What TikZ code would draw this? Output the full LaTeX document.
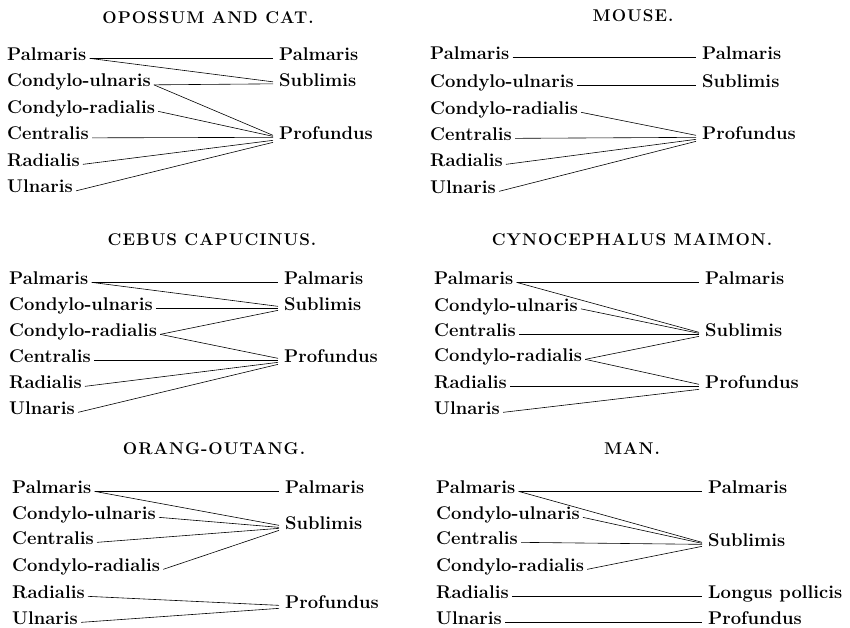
\documentclass[tikz,border=0pt]{standalone}
\usepackage{fontspec}
\setmainfont{Latin Modern Roman}
\newfontfamily\ttlface{Latin Modern Roman}[LetterSpace=6]
\newcommand\labfont{\fontsize{18.4}{20}\selectfont\bfseries}
\newcommand\ttlfont{\fontsize{17}{19}\selectfont\ttlface\bfseries}
\tikzset{
  lab/.style={anchor=base west, inner sep=0pt, font=\labfont},
  ttl/.style={anchor=center, inner sep=0pt, font=\ttlfont},
  con/.style={line width=0.6pt, black}
}
\newcommand\conn[3]{\draw[con] ([xshift=3pt]#1.mid east) -- ([xshift=-6pt,yshift=#3pt]#2.mid west);}
\begin{document}
\begin{tikzpicture}[x=1pt,y=-1pt]
\useasboundingbox (0,0) rectangle (850,628);
% ---------- Panel 1: Opossum and Cat
\node[ttl] (t1) at (208,18) {OPOSSUM AND CAT.};
\node[lab] (a1) at (7,60.5) {Palmaris};
\node[lab] (b1) at (7,87) {Condylo-ulnaris};
\node[lab] (c1) at (7,113.5) {Condylo-radialis};
\node[lab] (d1) at (7,140) {Centralis};
\node[lab] (e1) at (7,166.5) {Radialis};
\node[lab] (f1) at (7,193) {Ulnaris};
\node[lab] (P1) at (279,60.5) {Palmaris};
\node[lab] (S1) at (279,87) {Sublimis};
\node[lab] (F1) at (279,139.5) {Profundus};
\conn{a1}{P1}{0}
\conn{a1}{S1}{3}
\conn{b1}{S1}{1}
\conn{b1}{F1}{2}
\conn{c1}{F1}{1}
\conn{d1}{F1}{0}
\conn{e1}{F1}{-3}
\conn{f1}{F1}{-5}
% ---------- Panel 2: Mouse
\node[ttl] (t2) at (633,16) {MOUSE.};
\node[lab] (a2) at (430,59.5) {Palmaris};
\node[lab] (b2) at (430,87.5) {Condylo-ulnaris};
\node[lab] (c2) at (430,114.5) {Condylo-radialis};
\node[lab] (d2) at (430,140.5) {Centralis};
\node[lab] (e2) at (430,166.5) {Radialis};
\node[lab] (f2) at (430,193.5) {Ulnaris};
\node[lab] (P2) at (702,59.5) {Palmaris};
\node[lab] (S2) at (702,87.5) {Sublimis};
\node[lab] (F2) at (702,139.5) {Profundus};
\conn{a2}{P2}{0}
\conn{b2}{S2}{0}
\conn{c2}{F2}{2}
\conn{d2}{F2}{0}
\conn{e2}{F2}{-2}
\conn{f2}{F2}{-4}
% ---------- Panel 3: Cebus capucinus
\node[ttl] (t3) at (212,240) {CEBUS CAPUCINUS.};
\node[lab] (a3) at (9,284.5) {Palmaris};
\node[lab] (b3) at (9,310.5) {Condylo-ulnaris};
\node[lab] (c3) at (9,336.5) {Condylo-radialis};
\node[lab] (d3) at (9,362.5) {Centralis};
\node[lab] (e3) at (9,388.5) {Radialis};
\node[lab] (f3) at (9,414.5) {Ulnaris};
\node[lab] (P3) at (284,284.5) {Palmaris};
\node[lab] (S3) at (284,310.5) {Sublimis};
\node[lab] (F3) at (284,362.5) {Profundus};
\conn{a3}{P3}{0}
\conn{a3}{S3}{2}
\conn{b3}{S3}{0}
\conn{c3}{S3}{-2}
\conn{c3}{F3}{2}
\conn{d3}{F3}{0}
\conn{e3}{F3}{-2}
\conn{f3}{F3}{-4}
% ---------- Panel 4: Cynocephalus maimon
\node[ttl] (t4) at (632,240) {CYNOCEPHALUS MAIMON.};
\node[lab] (a4) at (434,284.5) {Palmaris};
\node[lab] (b4) at (434,311) {Condylo-ulnaris};
\node[lab] (c4) at (434,336.5) {Centralis};
\node[lab] (d4) at (434,361.5) {Condylo-radialis};
\node[lab] (e4) at (434,388.5) {Radialis};
\node[lab] (f4) at (434,414.5) {Ulnaris};
\node[lab] (P4) at (705,284.5) {Palmaris};
\node[lab] (S4) at (705,336.5) {Sublimis};
\node[lab] (F4) at (705,388.5) {Profundus};
\conn{a4}{P4}{0}
\conn{a4}{S4}{2}
\conn{b4}{S4}{1}
\conn{c4}{S4}{0}
\conn{d4}{S4}{-2}
\conn{d4}{F4}{2}
\conn{e4}{F4}{0}
\conn{f4}{F4}{-3}
% ---------- Panel 5: Orang-outang
\node[ttl] (t5) at (214,449) {ORANG-OUTANG.};
\node[lab] (a5) at (12,493.5) {Palmaris};
\node[lab] (b5) at (12,519.5) {Condylo-ulnaris};
\node[lab] (c5) at (12,544.5) {Centralis};
\node[lab] (d5) at (12,571.5) {Condylo-radialis};
\node[lab] (e5) at (12,598.5) {Radialis};
\node[lab] (f5) at (12,624.5) {Ulnaris};
\node[lab] (P5) at (285,493.5) {Palmaris};
\node[lab] (S5) at (285,529.5) {Sublimis};
\node[lab] (F5) at (285,608.5) {Profundus};
\conn{a5}{P5}{0}
\conn{a5}{S5}{2}
\conn{b5}{S5}{0}
\conn{c5}{S5}{-1}
\conn{d5}{S5}{-3}
\conn{e5}{F5}{1}
\conn{f5}{F5}{-2}
% ---------- Panel 6: Man
\node[ttl] (t6) at (632,449) {MAN.};
\node[lab] (a6) at (436,493.5) {Palmaris};
\node[lab] (b6) at (436,519.5) {Condylo-ulnaris};
\node[lab] (c6) at (436,544.5) {Centralis};
\node[lab] (d6) at (436,571.5) {Condylo-radialis};
\node[lab] (e6) at (436,598.5) {Radialis};
\node[lab] (f6) at (436,624.5) {Ulnaris};
\node[lab] (P6) at (708,493.5) {Palmaris};
\node[lab] (S6) at (708,546.5) {Sublimis};
\node[lab] (L6) at (708,598.5) {Longus pollicis};
\node[lab] (F6) at (708,624.5) {Profundus};
\conn{a6}{P6}{0}
\conn{a6}{S6}{2}
\conn{b6}{S6}{1}
\conn{c6}{S6}{0}
\conn{d6}{S6}{-2}
\conn{e6}{L6}{0}
\conn{f6}{F6}{0}
\end{tikzpicture}
\end{document}
